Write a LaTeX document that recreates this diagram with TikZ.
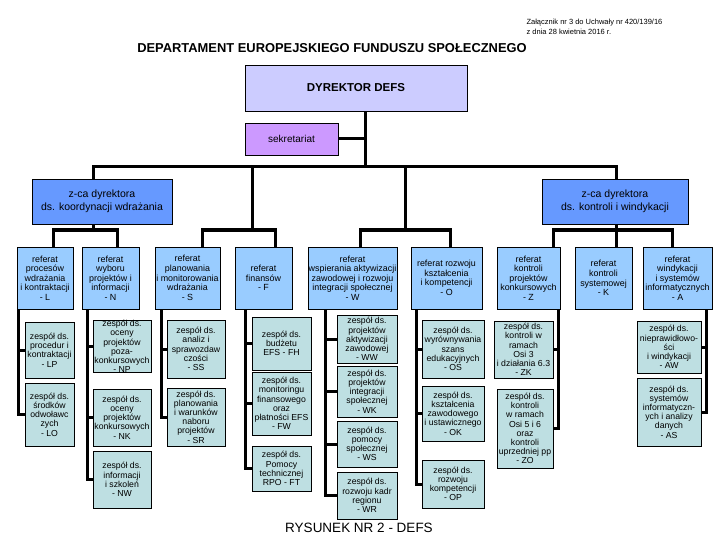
\documentclass[tikz,border=0pt]{standalone}
\usepackage{fontspec}
\setmainfont{Liberation Sans}
\usepackage{xcolor}
\usepackage{tikz}
\usetikzlibrary{positioning, calc}

\definecolor{dircol}{HTML}{CCCCFF}
\definecolor{sekcol}{HTML}{CC99FF}
\definecolor{zcacol}{HTML}{6699FF}
\definecolor{refcol}{HTML}{99CCFF}
\definecolor{zespcol}{HTML}{BEDFE2}

\tikzset{
  conn/.style={line width=3pt},
  box/.style={draw, line width=0.8pt, align=center, inner sep=0pt},
  wh/.style 2 args={minimum width=#1pt, minimum height=#2pt},
  refbox/.style={box, fill=refcol, font=\fontsize{8.9}{9.6}\selectfont},
  zespbox/.style={box, fill=zespcol, font=\fontsize{8.7}{9.2}\selectfont},
}

\begin{document}
\begin{tikzpicture}[x=1pt, y=-1pt]
\useasboundingbox (0,0) rectangle (720,540);

% header
\node[anchor=west, align=left, font=\fontsize{7.5}{10}\selectfont] (zal) at (523,27)
  {Załącznik nr 3 do Uchwały nr 420/139/16\\ z dnia 28 kwietnia 2016 r.};
\node[font=\bfseries\fontsize{12.9}{15}\selectfont] (title) at (332,48)
  {DEPARTAMENT EUROPEJSKIEGO FUNDUSZU SPOŁECZNEGO};

% top level
\node[box, fill=dircol, wh={222}{46}, font=\bfseries\fontsize{11.5}{13}\selectfont] (DIR) at (356,88) {DYREKTOR DEFS};
\node[box, fill=sekcol, wh={93}{32}, font=\fontsize{10}{12}\selectfont] (SEK) at (291.5,139) {sekretariat};
\node[box, fill=zcacol, wh={140}{45}, font=\fontsize{10.5}{13}\selectfont] (zcaW) at (102,201.5)
  {z-ca dyrektora\\ds. koordynacji wdrażania};
\node[box, fill=zcacol, wh={146}{45}, font=\fontsize{10.5}{13}\selectfont] (zcaK) at (615,201.5)
  {z-ca dyrektora\\ds. kontroli i windykacji};

% referaty
\node[refbox, wh={56}{62}] (L) at (45,278) {referat\\procesów\\wdrażania\\i kontraktacji\\- L};
\node[refbox, wh={57}{62}] (N) at (110.5,278) {referat\\wyboru\\projektów i\\informacji\\- N};
\node[refbox, wh={65}{62}] (S) at (187.5,278) {referat\\planowania\\i monitorowania\\wdrażania\\- S};
\node[refbox, wh={57}{62}] (F) at (263.5,278) {referat\\finansów\\- F};
\node[refbox, wh={89}{62}] (W) at (352.5,278) {referat\\wspierania aktywizacji\\zawodowej i rozwoju\\integracji społecznej\\- W};
\node[refbox, wh={71}{62}] (O) at (446.5,278) {referat rozwoju\\kształcenia\\i kompetencji\\- O};
\node[refbox, wh={63}{62}] (Z) at (528.5,278) {referat\\kontroli\\projektów\\konkursowych\\- Z};
\node[refbox, wh={57}{62}] (K) at (603.5,278) {referat\\kontroli\\systemowej\\- K};
\node[refbox, wh={69}{62}] (A) at (677.5,278) {referat\\windykacji\\i systemów\\informatycznych\\- A};

% zespoly
\node[zespbox, wh={49}{56}] (LP) at (49.5,350) {zespół ds.\\procedur i\\kontraktacji\\- LP};
\node[zespbox, wh={49}{63}] (LO) at (49.5,414.5) {zespół ds.\\środków\\odwoławc\\zych\\- LO};
\node[zespbox, wh={58}{51}] (NP) at (122,346.5) {zespół ds.\\oceny\\projektów\\poza-\\konkursowych\\- NP};
\node[zespbox, wh={58}{57}] (NK) at (122,417.5) {zespół ds.\\oceny\\projektów\\konkursowych\\- NK};
\node[zespbox, wh={58}{57}] (NW) at (122,479.5) {zespół ds.\\informacji\\i szkoleń\\- NW};
\node[zespbox, wh={58}{58}] (SS) at (196,349) {zespół ds.\\analiz i\\sprawozdaw\\czości\\- SS};
\node[zespbox, wh={58}{58}] (SR) at (196,417) {zespół ds.\\planowania\\i warunków\\naboru\\projektów\\- SR};
\node[zespbox, wh={59}{53}] (FH) at (281.5,343.5) {zespół ds.\\budżetu\\EFS - FH};
\node[zespbox, wh={59}{63}] (FW) at (281.5,403.5) {zespół ds.\\monitoringu\\finansowego\\oraz\\płatności EFS\\- FW};
\node[zespbox, wh={59}{45}] (FT) at (281.5,468.5) {zespół ds.\\Pomocy\\technicznej\\RPO - FT};
\node[zespbox, wh={60}{48}] (WW) at (367,339) {zespół ds.\\projektów\\aktywizacji\\zawodowej\\- WW};
\node[zespbox, wh={60}{51}] (WK) at (367,391.5) {zespół ds.\\projektów\\integracji\\społecznej\\- WK};
\node[zespbox, wh={60}{46}] (WS) at (367,444) {zespół ds.\\pomocy\\społecznej\\- WS};
\node[zespbox, wh={60}{47}] (WR) at (367,495.5) {zespół ds.\\rozwoju kadr\\regionu\\- WR};
\node[zespbox, wh={62}{58}] (OS) at (453,349) {zespół ds.\\wyrównywania\\szans\\edukacyjnych\\- OS};
\node[zespbox, wh={62}{55}] (OK) at (453,413.5) {zespół ds.\\kształcenia\\zawodowego\\i ustawicznego\\- OK};
\node[zespbox, wh={62}{48}] (OP) at (453,484) {zespół ds.\\rozwoju\\kompetencji\\- OP};
\node[zespbox, wh={59}{57}] (ZK) at (523.5,349.5) {zespół ds.\\kontroli w\\ramach\\Osi 3\\i działania 6.3\\- ZK};
\node[zespbox, wh={56}{79}] (ZO) at (525,428.5) {zespół ds.\\kontroli\\w ramach\\Osi 5 i 6\\oraz\\kontroli\\uprzedniej pp\\- ZO};
\node[zespbox, wh={64}{52}] (AW) at (669,347) {zespół ds.\\nieprawidłowo-\\ści\\i windykacji\\- AW};
\node[zespbox, wh={64}{68}] (AS) at (669,412) {zespół ds.\\systemów\\informatyczn-\\ych i analizy\\danych\\- AS};

\node[font=\fontsize{13.5}{15}\selectfont] (caption) at (359,528) {RYSUNEK NR 2 - DEFS};

% junctions
\coordinate (bus) at (365,167);
\coordinate (jW) at (93,230);
\coordinate (j2) at (252,230);
\coordinate (j3) at (405,230);
\coordinate (jK) at (616,230);
\coordinate (tL) at (53,230);
\coordinate (tN) at (117,230);
\coordinate (tS) at (202,230);
\coordinate (tF) at (275,230);
\coordinate (tW) at (360,230);
\coordinate (tO) at (450,230);
\coordinate (tZ) at (553,230);
\coordinate (tA) at (672,230);

% connectors
\draw[conn] (DIR.south -| bus) -- (bus);
\draw[conn] (SEK.east) -- (SEK.east -| bus);
\draw[conn] (jW |- zcaW.north) |- (jK |- bus) -- (jK |- zcaK.north);
\draw[conn] (j2 |- bus) -- (j2);
\draw[conn] (j3 |- bus) -- (j3);
\draw[conn] (zcaW.south -| jW) -- (jW);
\draw[conn] (zcaK.south -| jK) -- (jK |- K.north);
\draw[conn] (tL |- L.north) -- (tL) -- (tN) -- (tN |- N.north);
\draw[conn] (tS |- S.north) -- (tS) -- (tF) -- (tF |- F.north);
\draw[conn] (tW |- W.north) -- (tW) -- (tO) -- (tO |- O.north);
\draw[conn] (tZ |- Z.north) -- (tZ) -- (tA) -- (tA |- A.north);

\foreach \z in {LP,LO} \draw[conn] ([xshift=2pt]L.south west) |- (\z.west);
\foreach \z in {NP,NK,NW} \draw[conn] ([xshift=6pt]N.south west) |- (\z.west);
\foreach \z in {SS,SR} \draw[conn] ([xshift=7pt]S.south west) |- (\z.west);
\foreach \z in {FH,FW,FT} \draw[conn] ([xshift=11pt]F.south west) |- (\z.west);
\foreach \z in {WW,WK,WS,WR} \draw[conn] ([xshift=18pt]W.south west) |- (\z.west);
\foreach \z in {OS,OK,OP} \draw[conn] ([xshift=6pt]O.south west) |- (\z.west);
\foreach \z in {ZK,ZO} \draw[conn] ([xshift=-2pt]Z.south east) |- (\z.east);
\foreach \z in {AW,AS} \draw[conn] ([xshift=-6pt]A.south east) |- (\z.east);
\end{tikzpicture}
\end{document}
